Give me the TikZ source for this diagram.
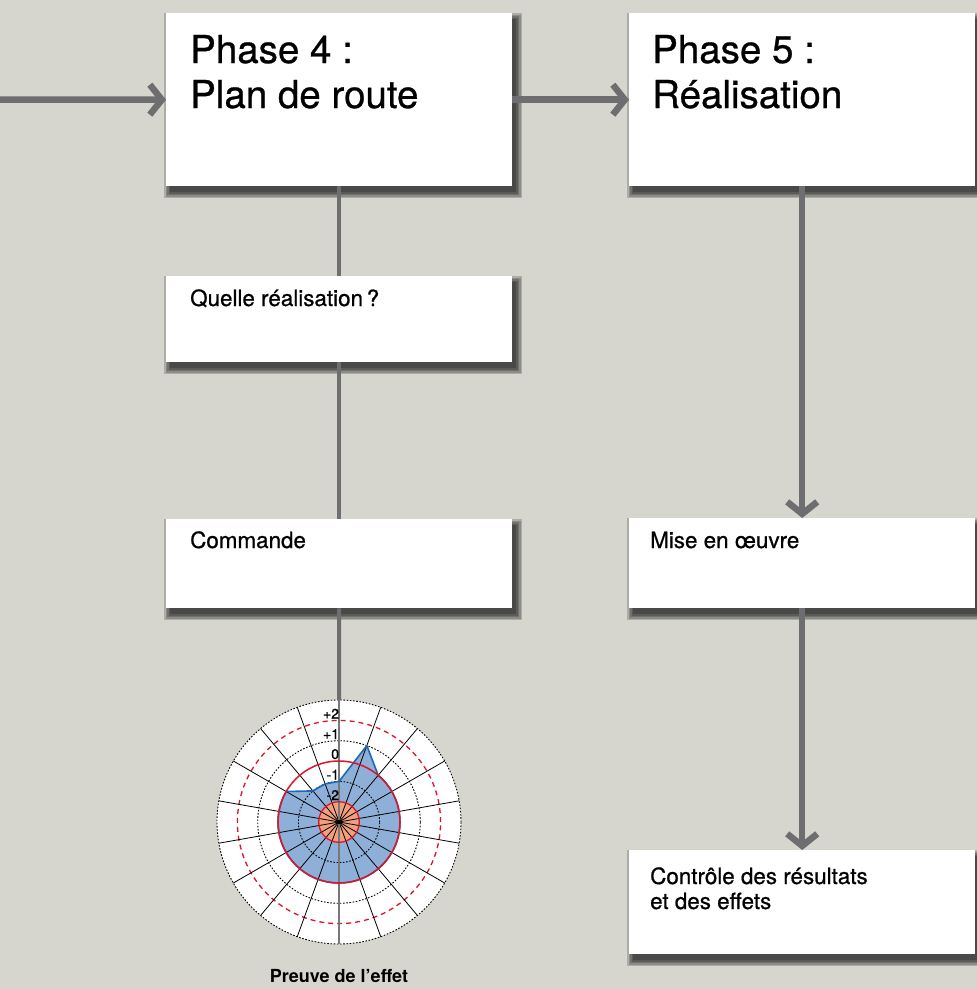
\documentclass[tikz,border=0pt]{standalone}
\usepackage{fontspec}
\setmainfont{TeX Gyre Heros}
\newfontfamily\mediumfont[FakeBold=0.7]{TeX Gyre Heros}
\usetikzlibrary{arrows.meta,backgrounds}
\pgfdeclarelayer{backdrop}
\pgfsetlayers{backdrop,background,main}
\definecolor{bg}{RGB}{214,214,206}
\definecolor{conn}{RGB}{110,110,112}
\definecolor{spokegray}{RGB}{120,120,122}
\definecolor{radarblue}{RGB}{142,175,215}
\definecolor{radarline}{RGB}{27,106,179}
\definecolor{radarred}{RGB}{222,20,40}
\definecolor{radarcore}{RGB}{240,160,125}
\begin{document}
\begin{tikzpicture}[x=1pt,y=-1pt,
  box/.style={fill=white, minimum width=346pt, inner sep=0pt, anchor=north west},
  titletext/.style={anchor=base west, inner sep=0pt, font=\mediumfont\fontsize{38.5}{45}\selectfont},
  boxtext/.style={anchor=base west, inner sep=0pt, font=\mediumfont\fontsize{22.4}{25}\selectfont},
  flow/.style={draw=conn, line width=6.5pt, -{Straight Barb[length=12pt,width=30pt]}},
  link/.style={draw=conn, line width=4pt},
  ringdot/.style={black, line width=0.9pt, dash pattern=on 1.6pt off 1.6pt},
  scaletext/.style={anchor=south east, inner sep=0.6pt, font=\mediumfont\fontsize{14}{16}\selectfont},
  softshadow/.style={fill=black, opacity=0.19},
]
\useasboundingbox (0,0) rectangle (977,989);
\begin{pgfonlayer}{backdrop}
  \fill[bg] (0,0) rectangle (977,989);
\end{pgfonlayer}

% boxes
\node[box, minimum height=173pt] (p4) at (166,13) {};
\node[box, minimum height=173pt] (p5) at (629,13) {};
\node[box, minimum height=86pt] (q) at (166,276) {};
\node[box, minimum height=89pt] (cmd) at (166,519) {};
\node[box, minimum height=90pt] (mise) at (629,518) {};
\node[box, minimum height=104pt] (ctrl) at (629,850) {};

% soft drop shadows: stacked translucent rectangles
\begin{pgfonlayer}{background}
  \foreach \b in {p4,p5,q,cmd,mise,ctrl}
    \foreach \g in {6,4.5,3,1.5,0}
      \fill[softshadow] ([xshift=4pt-\g pt, yshift=-6pt+\g pt]\b.north west)
        rectangle ([xshift=4pt+\g pt, yshift=-6pt-\g pt]\b.south east);
\end{pgfonlayer}

% box texts
\node[titletext] (t4) at ([xshift=24pt,yshift=-50pt]p4.north west)
  {\begin{tabular}[t]{@{}l@{}}Phase 4 :\\Plan de route\end{tabular}};
\node[titletext] (t5) at ([xshift=23pt,yshift=-50pt]p5.north west)
  {\begin{tabular}[t]{@{}l@{}}Phase 5 :\\Réalisation\end{tabular}};
\node[boxtext] (tq) at ([xshift=24pt,yshift=-30pt]q.north west) {Quelle réalisation\,?};
\node[boxtext] (tc) at ([xshift=24pt,yshift=-29pt]cmd.north west) {Commande};
\node[boxtext] (tm) at ([xshift=21pt,yshift=-30pt]mise.north west) {Mise en œuvre};
\node[boxtext] (tr) at ([xshift=21pt,yshift=-34pt]ctrl.north west)
  {\begin{tabular}[t]{@{}l@{}}Contrôle des résultats\\et des effets\end{tabular}};

% radar chart
\node[circle, minimum size=244pt, inner sep=0pt, fill=white] (radar) at (339,822) {};
\begin{scope}[shift={(radar.center)}, y=1pt]
  \fill[radarblue] (90:40.6pt) -- (70:81.3pt) -- (50:61pt)
    arc[start angle=50, end angle=-210, radius=61pt]
    -- (130:40.6pt) -- (110:40.6pt) -- cycle;
  \fill[radarcore] (0,0) circle[radius=20.3pt];
  \foreach \r in {40.6,81.3,122} \draw[ringdot] (0,0) circle[radius=\r pt];
  \draw[radarred, line width=1.3pt, dash pattern=on 5pt off 4pt] (0,0) circle[radius=101.6pt];
  \foreach \a in {10,30,50,70,110,130,150,170,190,210,230,250,290,310,330,350}
    \draw[black, line width=0.8pt] (0,0) -- (\a:122pt);
  \draw[spokegray, line width=1.8pt] (90:122pt) -- (270:122pt);
  \draw[radarline, line width=1.6pt, line join=round] (90:40.6pt) -- (70:81.3pt) -- (50:61pt)
    arc[start angle=50, end angle=-210, radius=61pt]
    -- (130:40.6pt) -- (110:40.6pt) -- cycle;
  \draw[radarred, line width=1.5pt] (0,0) circle[radius=61pt];
  \draw[radarred, line width=1.3pt] (0,0) circle[radius=20.3pt];
  \fill[black] (0,0) circle[radius=2.2pt];
  \node[scaletext] (s2) at (0.8,102.5) {+2};
  \node[scaletext] (s1) at (0.8,82.2) {+1};
  \node[scaletext] (s0) at (0.8,62) {0};
  \node[scaletext] (sm1) at (0.8,41.5) {-1};
  \node[scaletext] (sm2) at (0.8,21.2) {-2};
\end{scope}
\node[anchor=base, inner sep=0pt, font=\fontsize{18}{22}\selectfont\bfseries] (proof) at (339,982) {Preuve de l’effet};

% connectors
\coordinate (entry) at (0,99.5);
\draw[flow] (entry) -- (p4.west);
\draw[flow] (p4.east) -- (p5.west);
\draw[link] (p4.south) -- (q.north);
\draw[link] (q.south) -- (cmd.north);
\draw[link] (cmd.south) -- (radar.north);
\draw[flow] (p5.south) -- (mise.north);
\draw[flow] (mise.south) -- (ctrl.north);
\end{tikzpicture}
\end{document}
